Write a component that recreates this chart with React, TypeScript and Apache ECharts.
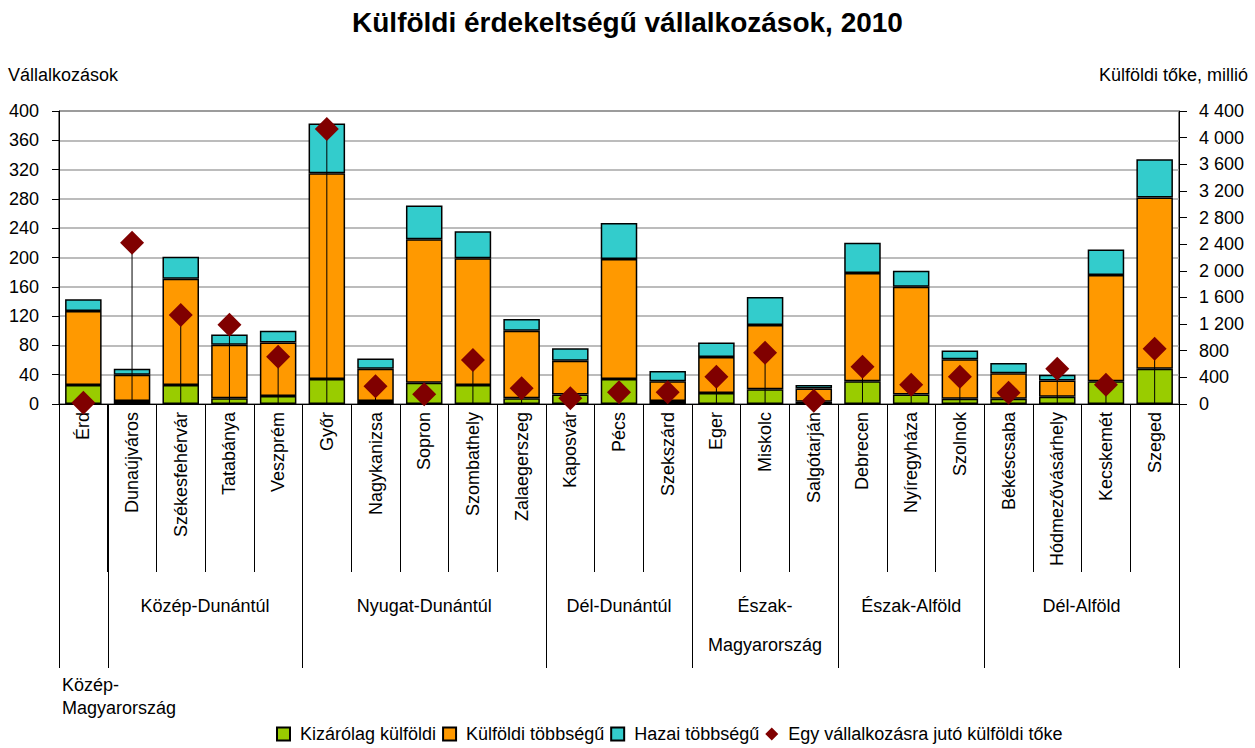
import React, { useEffect, useRef } from "react";
import * as echarts from "echarts";

const categories = [
  "Érd", "Dunaújváros", "Székesfehérvár", "Tatabánya", "Veszprém",
  "Győr", "Nagykanizsa", "Sopron", "Szombathely", "Zalaegerszeg",
  "Kaposvár", "Pécs", "Szekszárd", "Eger", "Miskolc", "Salgótarján",
  "Debrecen", "Nyíregyháza", "Szolnok", "Békéscsaba", "Hódmezővásárhely",
  "Kecskemét", "Szeged",
];
const foreignOnly = [26, 4, 26, 8, 11, 34, 4, 29, 26, 8, 13, 34, 4, 15, 20, 3, 31, 13, 7, 7, 10, 31, 48];
const foreignMajority = [101, 36, 145, 73, 73, 281, 44, 196, 173, 92, 46, 164, 27, 49, 88, 18, 148, 147, 54, 35, 22, 145, 234];
const domesticMajority = [16, 8, 30, 14, 16, 68, 14, 46, 37, 16, 17, 49, 14, 20, 38, 5, 41, 22, 12, 14, 8, 35, 52];
const capitalPerEnterprise = [20, 2420, 1335, 1190, 710, 4130, 265, 145, 660, 235, 85, 175, 175, 410, 770, 50, 560, 290, 410, 170, 530, 290, 830];

const regionNames = [
  "Közép-\nMagyarország", "Közép-Dunántúl", "Nyugat-Dunántúl", "Dél-Dunántúl",
  "Észak-\nMagyarország", "Észak-Alföld", "Dél-Alföld",
];
const regionStart = [0, 1, 5, 10, 13, 16, 19];
const regionEnd = [0, 4, 9, 12, 15, 18, 22];

const leftTicks = { min: 0, max: 400, interval: 40 };
const rightTicks = { min: 0, max: 4400, interval: 400 };

const seriesNames = [
  "Kizárólag külföldi",
  "Külföldi többségű",
  "Hazai többségű",
  "Egy vállalkozásra jutó külföldi tőke",
];

const FONT = "'Liberation Sans', Arial, sans-serif";

const fmtSpace = (v: number) => String(v).replace(/\B(?=(\d{3})+(?!\d))/g, " ");

export default function App() {
  const ref = useRef<HTMLDivElement>(null);
  useEffect(() => {
    if (!ref.current) return;
    const chart = echarts.init(ref.current, undefined, { renderer: "svg" });
    const barStyle = (color: string) => ({ color, borderColor: "#000", borderWidth: 1.5 });
    chart.setOption({
      animation: false,
      backgroundColor: "#fff",
      title: {
        text: "Külföldi érdekeltségű vállalkozások, 2010",
        left: "center",
        top: 3,
        textStyle: { fontFamily: FONT, fontWeight: "bold", fontSize: 28, color: "#000" },
      },
      grid: {
        left: 59, right: 76, top: 111, bottom: 344,
        show: true, borderColor: "#000", borderWidth: 1, backgroundColor: "transparent",
      },
      legend: {
        left: 271, top: 720,
        itemWidth: 13, itemHeight: 13, itemGap: 6,
        textStyle: { fontFamily: FONT, fontSize: 18, color: "#000", padding: [0, 0, 0, 5] },
        data: [
          { name: seriesNames[0], icon: "rect" },
          { name: seriesNames[1], icon: "rect" },
          { name: seriesNames[2], icon: "rect" },
          { name: seriesNames[3], icon: "diamond" },
        ],
      },
      xAxis: {
        type: "category",
        data: categories,
        boundaryGap: true,
        axisLine: { lineStyle: { color: "#000", width: 1 } },
        axisTick: { show: true, interval: 0, length: 168, lineStyle: { color: "#000", width: 1 } },
        axisLabel: {
          interval: 0, rotate: 90, margin: 8,
          fontFamily: FONT, fontSize: 18, color: "#000",
        },
      },
      yAxis: [
        {
          type: "value", ...leftTicks,
          axisLine: { show: true, lineStyle: { color: "#000" } },
          axisTick: { show: true, length: 7, lineStyle: { color: "#000" } },
          axisLabel: { margin: 20, fontFamily: FONT, fontSize: 18, color: "#000" },
          splitLine: { show: true, lineStyle: { color: "#a6a6a6", width: 1.5 } },
        },
        {
          type: "value", ...rightTicks,
          position: "right",
          axisLine: { show: true, lineStyle: { color: "#000" } },
          axisTick: { show: true, length: 8, lineStyle: { color: "#000" } },
          axisLabel: { margin: 20, fontFamily: FONT, fontSize: 18, color: "#000", formatter: fmtSpace },
          splitLine: { show: false },
        },
      ],
      series: [
        { name: seriesNames[0], type: "bar", stack: "t", barWidth: "75%", data: foreignOnly, itemStyle: barStyle("#99cc00") },
        { name: seriesNames[1], type: "bar", stack: "t", barWidth: "75%", data: foreignMajority, itemStyle: barStyle("#ff9900") },
        { name: seriesNames[2], type: "bar", stack: "t", barWidth: "75%", data: domesticMajority, itemStyle: barStyle("#33cccc") },
        {
          name: "dropLines",
          type: "custom",
          yAxisIndex: 1,
          silent: true,
          z: 3,
          encode: { x: 0, y: 1 },
          data: capitalPerEnterprise.map((v, i) => [i, v]),
          renderItem: (_p: any, api: any) => {
            const top = api.coord([api.value(0), api.value(1)]);
            const base = api.coord([api.value(0), 0]);
            return {
              type: "line",
              shape: { x1: top[0], y1: top[1], x2: base[0], y2: base[1] },
              style: { stroke: "#000", lineWidth: 1 },
            };
          },
        },
        {
          name: seriesNames[3], type: "scatter", yAxisIndex: 1, z: 4,
          symbol: "diamond", symbolSize: 24,
          itemStyle: { color: "#800000", opacity: 1 },
          data: capitalPerEnterprise,
        },
      ],
    });

    const xs = categories.map((_, i) => chart.convertToPixel({ xAxisIndex: 0 }, i) as number);
    const band = xs[1] - xs[0];
    const boundary = (i: number) => xs[0] - band / 2 + i * band;
    const y0 = chart.convertToPixel({ yAxisIndex: 0 }, 0) as number;
    const yTop = chart.convertToPixel({ yAxisIndex: 0 }, leftTicks.max) as number;
    const xRight = boundary(categories.length);

    const graphics: any[] = [];
    const groupEdges = [...regionStart, categories.length];
    groupEdges.forEach((idx) => {
      const x = Math.round(boundary(idx)) + 0.5;
      graphics.push({
        type: "line", silent: true,
        shape: { x1: x, y1: y0, x2: x, y2: y0 + 264 },
        style: { stroke: "#000", lineWidth: 1 },
      });
    });
    regionNames.forEach((name, k) => {
      const s = regionStart[k];
      const e = regionEnd[k];
      const single = s === e;
      const multi = name.includes("\n");
      graphics.push({
        type: "text", silent: true,
        style: {
          text: name,
          x: single ? boundary(s) + 3 : (boundary(s) + boundary(e + 1)) / 2,
          y: single ? y0 + 292 : multi ? y0 + 221.5 : y0 + 202,
          align: single ? "left" : "center",
          verticalAlign: "middle",
          lineHeight: single ? 23 : 39,
          fontFamily: FONT, fontSize: 18, fill: "#000",
        },
      });
    });
    graphics.push({
      type: "text", silent: true,
      style: { text: "Vállalkozások", x: 8, y: yTop - 36, align: "left", verticalAlign: "middle", fontFamily: FONT, fontSize: 18, fill: "#000" },
    });
    graphics.push({
      type: "text", silent: true,
      style: { text: "Külföldi tőke, millió", x: xRight + 69, y: yTop - 36, align: "right", verticalAlign: "middle", fontFamily: FONT, fontSize: 18, fill: "#000" },
    });
    chart.setOption({ graphic: graphics });

    return () => chart.dispose();
  }, []);
  return <div ref={ref} style={{ position: "fixed", left: 0, top: 0, width: 1255, height: 748 }} />;
}
